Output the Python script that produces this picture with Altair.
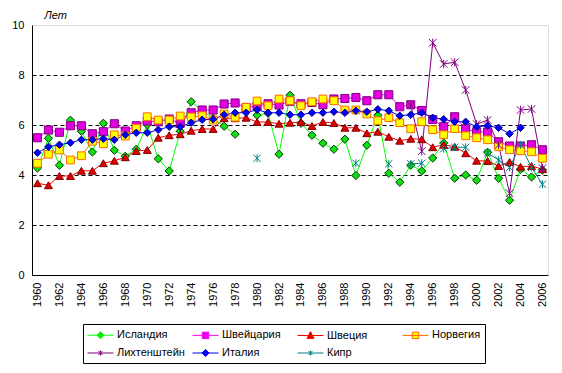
import altair as alt
import pandas as pd

years = [str(y) for y in range(1960, 2007)]
tick_years = [str(y) for y in range(1960, 2007, 2)]

series_names = ["Исландия", "Швейцария", "Швеция", "Норвегия", "Лихтенштейн", "Италия", "Кипр"]

N = None
iceland = [4.28, 5.47, 4.39, 6.19, 5.75, 4.92, 6.07, 4.99, 4.75, 5.03,
           6.01, 4.65, 4.16, 5.75, 6.93, 6.57, 6.27, 5.95, 5.63, N,
           6.39, 6.47, 4.83, 7.19, 6.07, 5.59, 5.27, 5.03, 5.43, 3.98,
           5.19, 6.39, 4.07, 3.71, 4.39, 4.16, 4.68, 5.28, 3.87, 4.00,
           3.79, 4.91, 3.87, 2.99, 4.23, 3.92, 4.20]
switzerland = [5.49, 5.80, 5.71, 5.97, 5.97, 5.65, 5.73, 6.05, 5.76, 5.97,
               6.16, 6.13, 6.24, 6.07, 6.49, 6.60, 6.60, 6.84, 6.88, 6.70,
               6.76, 6.85, 6.80, 6.95, 6.85, 6.90, 6.81, 7.04, 7.06, 7.10,
               6.97, 7.21, 7.21, 6.73, 6.81, 6.58, 6.22, 5.93, 6.33, 5.85,
               5.72, 5.72, 5.33, 5.16, 5.16, 5.21, 5.01]
sweden = [3.67, 3.59, 3.96, 3.96, 4.17, 4.17, 4.47, 4.57, 4.71, 4.96,
          5.00, 5.49, 5.59, 5.63, 5.77, 5.84, 5.84, 6.27, 6.27, 6.29,
          6.12, 6.12, 6.05, 6.09, 6.12, 5.96, 6.12, 6.08, 5.89, 5.89,
          5.67, 5.73, 5.53, 5.37, 5.45, 5.43, 5.11, 5.21, 5.13, 4.87,
          4.57, 4.56, 4.36, 4.52, 4.33, 4.36, 4.23]
norway = [4.47, 4.83, 5.00, 4.60, 4.77, 5.35, 5.25, 5.61, 5.56, 5.87,
          6.33, 6.20, 6.20, 6.36, 6.32, 6.37, 6.20, 6.44, 6.31, 6.71,
          6.96, 6.77, 7.04, 6.97, 6.77, 6.93, 7.04, 6.97, 6.60, 6.60,
          6.44, 6.17, 6.29, 6.09, 5.85, 6.13, 5.81, 5.61, 5.85, 5.57,
          5.49, 5.41, 5.13, 5.01, 4.97, 4.93, 4.67]
liechtenstein = [N] * 34 + [6.80, 4.95, 9.29, 8.44, 8.51, 7.40,
                            6.03, 6.20, 5.20, 3.27, 6.60, 6.64, 4.27]
italy = [4.89, 5.13, 5.21, 5.29, 5.41, 5.41, 5.45, 5.41, 5.61, 5.69,
         5.69, 5.81, 5.93, 5.93, 6.09, 6.21, 6.23, 6.41, 6.49, 6.49,
         6.61, 6.49, 6.49, 6.41, 6.41, 6.49, 6.49, 6.53, 6.49, 6.57,
         6.53, 6.63, 6.57, 6.37, 6.41, 6.49, 6.29, 6.23, 6.13, 6.13,
         5.93, 5.97, 5.89, 5.65, 5.89, N, N]
cyprus = [N] * 20 + [4.67, N, N, N, N, N, N, N, N, 4.47,
                     N, N, 4.45, N, 4.45, 4.47, N, 5.05, 5.11, 5.11,
                     N, 4.88, 4.60, 4.30, 5.20, 4.30, 3.63]

all_values = [iceland, switzerland, sweden, norway, liechtenstein, italy, cyprus]

line_colors = ["#00FF00", "#FF00FF", "#FF0000", "#FF6600", "#800080", "#0000FF", "#008080"]
marker_fills = ["#10E010", "#E000E0", "#E00000", "#FFFF00", "#800080", "#0000FF", "#008080"]
marker_strokes = ["#003300", "#800080", "#800000", "#FF6600", "#800080", "#000080", "#008080"]

star_path = "M-1,-1L1,1M-1,1L1,-1M0,-1.1L0,1.1"
marker_shapes = ["diamond", "square", "triangle-up", "square", star_path, "diamond", star_path]
marker_sizes = [68, 52, 62, 52, 25, 68, 190]

legend_paths = [
    "M-1,0H3M1,-0.55L1.55,0L1,0.55L0.45,0Z",
    "M-1,0H3M0.5,-0.5H1.5V0.5H0.5Z",
    "M-1,0H3M1,-0.6L1.55,0.45H0.45Z",
    "M-1,0H3M0.5,-0.5H1.5V0.5H0.5Z",
    "M-1,0H3M0.7,-0.3L1.3,0.3M0.7,0.3L1.3,-0.3M1,-0.38V0.38",
    "M-1,0H3M1,-0.55L1.55,0L1,0.55L0.45,0Z",
    "M-1,0H3M0.7,-0.3L1.3,0.3M0.7,0.3L1.3,-0.3M1,-0.38V0.38",
]

rows = []
for name, vals in zip(series_names, all_values):
    for yr, v in zip(years, vals):
        rows.append({"year": yr, "series": name, "value": v, "lg": name})
df = pd.DataFrame(rows)

FONT = "Liberation Sans"

x_enc = alt.X(
    "year:O",
    scale=alt.Scale(type="point", padding=0.5, domain=years),
    axis=alt.Axis(values=tick_years, labelAngle=270, ticks=False, labelPadding=7,
                  domainColor="black", grid=False, title=None,
                  labelFontSize=11, labelColor="black", labelFont=FONT),
)
y_enc = alt.Y(
    "value:Q",
    scale=alt.Scale(domain=[0, 10], nice=False),
    axis=alt.Axis(values=[0, 2, 4, 6, 8, 10], ticks=False, labelPadding=8,
                  domainColor="black", labelFontSize=11, labelColor="black", labelFont=FONT,
                  grid=True, gridDash=[4, 3], gridWidth=1,
                  gridColor=alt.condition("datum.value == 0 || datum.value == 10",
                                          alt.value("transparent"), alt.value("black")),
                  title="Лет", titleAngle=0, titleX=23, titleY=-7, titleAlign="center",
                  titleBaseline="alphabetic", titleFontStyle="italic", titleFontWeight="normal",
                  titleFontSize=11, titleFont=FONT, titleColor="black"),
)

lines = alt.Chart(df).mark_line(strokeWidth=1, invalid="break-paths-show-domains").encode(
    x=x_enc, y=y_enc,
    color=alt.Color("series:N", scale=alt.Scale(domain=series_names, range=line_colors), legend=None),
)

points = alt.Chart(df).transform_filter("isValid(datum.value)").mark_point(
    filled=True, strokeWidth=1, opacity=1
).encode(
    x=x_enc, y=y_enc,
    fill=alt.Fill("series:N", scale=alt.Scale(domain=series_names, range=marker_fills), legend=None),
    stroke=alt.Stroke("series:N", scale=alt.Scale(domain=series_names, range=marker_strokes), legend=None),
    shape=alt.Shape("series:N", scale=alt.Scale(domain=series_names, range=marker_shapes), legend=None),
    size=alt.Size("series:N", scale=alt.Scale(domain=series_names, range=marker_sizes), legend=None),
)

leg = alt.Legend(
    title=None, orient="none", legendX=51, legendY=299, direction="horizontal",
    columns=4, gridAlign="all", symbolSize=169, symbolStrokeWidth=1,
    labelFontSize=11, labelFont=FONT, labelColor="black", labelOffset=16,
    columnPadding=5, rowPadding=5, padding=4, strokeColor="black", labelLimit=0,
)

legend_layer = alt.Chart(df).transform_filter("false").mark_point(
    filled=True, strokeWidth=1, opacity=1
).encode(
    x=x_enc, y=y_enc,
    fill=alt.Fill("lg:N", scale=alt.Scale(domain=series_names, range=marker_fills), legend=leg),
    stroke=alt.Stroke("lg:N", scale=alt.Scale(domain=series_names, range=line_colors), legend=leg),
    shape=alt.Shape("lg:N", scale=alt.Scale(domain=series_names, range=legend_paths), legend=leg),
)

chart = alt.layer(lines, points, legend_layer).resolve_scale(
    fill="independent", stroke="independent", shape="independent", size="independent"
).properties(
    width=516, height=250,
    autosize=alt.AutoSizeParams(type="none"),
    padding={"left": 24, "top": 17, "right": 6, "bottom": 95},
).configure_view(stroke="#808080", strokeWidth=1).configure(font=FONT, background="white")

chart.save("out.html", embed_options={"renderer": "svg", "actions": False})
